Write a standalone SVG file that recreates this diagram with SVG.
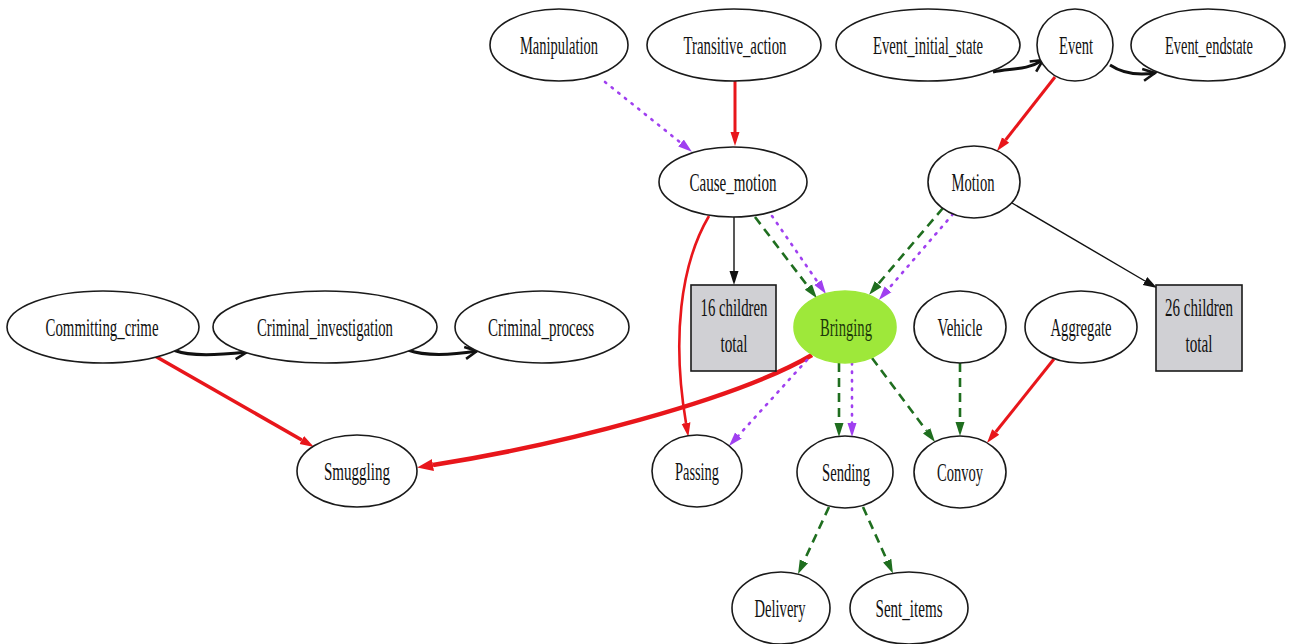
<svg xmlns="http://www.w3.org/2000/svg" width="1295" height="644" viewBox="0 0 1295 644">
<defs>
<style>
.n ellipse{fill:#fff;stroke:#1a1a1a;stroke-width:1.6}
.n rect{fill:#d0d0d4;stroke:#1a1a1a;stroke-width:1.6}
.n text{font-family:"Liberation Serif","Times New Roman",serif;font-size:25px;fill:#111;text-anchor:middle}
.red{stroke:#e8161b;fill:none;stroke-width:3}
.grn{stroke:#1f6e1f;fill:none;stroke-width:2.6;stroke-dasharray:9 6}
.pur{stroke:#a040f0;fill:none;stroke-width:2.6;stroke-dasharray:1.5 7;stroke-linecap:round}
.blk{stroke:#111;fill:none;stroke-width:1.4}
.bold{stroke:#111;fill:none;stroke-width:3}
</style>
<marker id="aR" viewBox="0 -6 15 12" markerWidth="15" markerHeight="12" refX="0" refY="0" orient="auto" markerUnits="userSpaceOnUse"><path d="M0,-4.5L14,0L0,4.5z" fill="#e8161b"/></marker>
<marker id="aRB" viewBox="0 -7 17 14" markerWidth="17" markerHeight="14" refX="0" refY="0" orient="auto" markerUnits="userSpaceOnUse"><path d="M0,-6L16,0L0,6z" fill="#e8161b"/></marker>
<marker id="aG" viewBox="0 -6 15 12" markerWidth="15" markerHeight="12" refX="0" refY="0" orient="auto" markerUnits="userSpaceOnUse"><path d="M0,-4.5L14,0L0,4.5z" fill="#1f6e1f"/></marker>
<marker id="aP" viewBox="0 -6 15 12" markerWidth="15" markerHeight="12" refX="0" refY="0" orient="auto" markerUnits="userSpaceOnUse"><path d="M0,-4.5L14,0L0,4.5z" fill="#a040f0"/></marker>
<marker id="aK" viewBox="0 -6 15 12" markerWidth="15" markerHeight="12" refX="0" refY="0" orient="auto" markerUnits="userSpaceOnUse"><path d="M0,-4.5L14,0L0,4.5z" fill="#111"/></marker>
<marker id="vK" viewBox="-2 -8 16 16" markerWidth="16" markerHeight="16" refX="12" refY="0" orient="auto" markerUnits="userSpaceOnUse"><path d="M0,-6L12,0L0,6" fill="none" stroke="#111" stroke-width="2.6"/></marker>
</defs>
<rect width="1295" height="644" fill="#fff"/>
<g id="edges">
<path class="pur" d="M605,82 L681,143" marker-end="url(#aP)"/>
<path class="red" d="M735,81 L735,132" marker-end="url(#aR)"/>
<path class="bold" d="M993,72 C1010,68 1026,71 1043,60" marker-end="url(#vK)"/>
<path class="bold" d="M1110,65 C1122,73 1136,76 1155,73" marker-end="url(#vK)"/>
<path class="red" d="M1055,77 L1005.6,140" marker-end="url(#aR)"/>
<path class="blk" d="M1012,203 L1145,281" marker-end="url(#aK)"/>
<path class="blk" d="M734,217 L734,271" marker-end="url(#aK)"/>
<path class="red" style="stroke-width:2.6" d="M709,216 C680,265 672,340 686,423" marker-end="url(#aR)"/>
<path class="grn" d="M755,217 L808.4,287" marker-end="url(#aG)"/>
<path class="pur" d="M772,216 L818,282.5" marker-end="url(#aP)"/>
<path class="grn" d="M943,208 L878.2,284" marker-end="url(#aG)"/>
<path class="pur" d="M953,214 L888,289.4" marker-end="url(#aP)"/>
<path class="red" style="stroke-width:4.5" d="M812,355 C735,400 560,445 433,465" marker-end="url(#aRB)"/>
<path class="red" style="stroke-width:3.6" d="M155,356 L301.8,440" marker-end="url(#aR)"/>
<path class="bold" d="M173,350 C192,357 218,355 247,352" marker-end="url(#vK)"/>
<path class="bold" d="M408,350 C427,357 452,355 477,351" marker-end="url(#vK)"/>
<path class="pur" d="M807,360 L738.4,435.6" marker-end="url(#aP)"/>
<path class="grn" d="M839,363 L839,423" marker-end="url(#aG)"/>
<path class="pur" d="M852,363 L852,423" marker-end="url(#aP)"/>
<path class="grn" d="M872,358 L926.6,430.8" marker-end="url(#aG)"/>
<path class="grn" d="M960,363 L960,422" marker-end="url(#aG)"/>
<path class="red" d="M1054,359 L995.7,432" marker-end="url(#aR)"/>
<path class="grn" d="M829,507 L803.9,561.3" marker-end="url(#aG)"/>
<path class="grn" d="M863,507 L887.2,560.7" marker-end="url(#aG)"/>
</g>
<g id="manipulation" class="n"><ellipse cx="559" cy="45" rx="69" ry="36"/><text x="559" y="53.5" textLength="78" lengthAdjust="spacingAndGlyphs">Manipulation</text></g>
<g id="transitive_action" class="n"><ellipse cx="734" cy="45" rx="87" ry="36"/><text x="735" y="53.5" textLength="103" lengthAdjust="spacingAndGlyphs">Transitive_action</text></g>
<g id="event_initial_state" class="n"><ellipse cx="928" cy="45" rx="92" ry="36"/><text x="928" y="53.5" textLength="110" lengthAdjust="spacingAndGlyphs">Event_initial_state</text></g>
<g id="event" class="n"><ellipse cx="1075" cy="45" rx="38" ry="36"/><text x="1076" y="53.5" textLength="34" lengthAdjust="spacingAndGlyphs">Event</text></g>
<g id="event_endstate" class="n"><ellipse cx="1208" cy="45" rx="77" ry="36"/><text x="1209" y="53.5" textLength="88" lengthAdjust="spacingAndGlyphs">Event_endstate</text></g>
<g id="cause_motion" class="n"><ellipse cx="733" cy="182" rx="74" ry="35"/><text x="733" y="190.5" textLength="87" lengthAdjust="spacingAndGlyphs">Cause_motion</text></g>
<g id="motion" class="n"><ellipse cx="974" cy="182" rx="46" ry="36"/><text x="973" y="190.5" textLength="43" lengthAdjust="spacingAndGlyphs">Motion</text></g>
<g id="committing_crime" class="n"><ellipse cx="103" cy="327" rx="96" ry="36"/><text x="102" y="335.5" textLength="113" lengthAdjust="spacingAndGlyphs">Committing_crime</text></g>
<g id="criminal_investigation" class="n"><ellipse cx="325" cy="327" rx="112" ry="36"/><text x="325" y="335.5" textLength="136" lengthAdjust="spacingAndGlyphs">Criminal_investigation</text></g>
<g id="criminal_process" class="n"><ellipse cx="542" cy="327" rx="87" ry="36"/><text x="541" y="335.5" textLength="106" lengthAdjust="spacingAndGlyphs">Criminal_process</text></g>
<g id="children16" class="n"><rect x="691" y="285" width="85" height="86"/><text x="734" y="316" textLength="67" lengthAdjust="spacingAndGlyphs">16 children</text><text x="734" y="352" textLength="27" lengthAdjust="spacingAndGlyphs">total</text></g>
<g id="bringing" class="n"><ellipse cx="845" cy="327" rx="51" ry="36" style="fill:#9ee83a;stroke:#9ee83a"/><text x="846" y="335.5" textLength="52" lengthAdjust="spacingAndGlyphs" style="fill:#1d3a0a">Bringing</text></g>
<g id="vehicle" class="n"><ellipse cx="960" cy="327" rx="46" ry="36"/><text x="960" y="335.5" textLength="45" lengthAdjust="spacingAndGlyphs">Vehicle</text></g>
<g id="aggregate" class="n"><ellipse cx="1081" cy="327" rx="56" ry="36"/><text x="1081" y="335.5" textLength="61" lengthAdjust="spacingAndGlyphs">Aggregate</text></g>
<g id="children26" class="n"><rect x="1156" y="285" width="86" height="86"/><text x="1199" y="316" textLength="68" lengthAdjust="spacingAndGlyphs">26 children</text><text x="1199" y="352" textLength="27" lengthAdjust="spacingAndGlyphs">total</text></g>
<g id="smuggling" class="n"><ellipse cx="357" cy="471" rx="60" ry="36"/><text x="357" y="479.5" textLength="66" lengthAdjust="spacingAndGlyphs">Smuggling</text></g>
<g id="passing" class="n"><ellipse cx="697" cy="471" rx="45" ry="36"/><text x="697" y="479.5" textLength="44" lengthAdjust="spacingAndGlyphs">Passing</text></g>
<g id="sending" class="n"><ellipse cx="845" cy="472" rx="48" ry="36"/><text x="846" y="480.5" textLength="48" lengthAdjust="spacingAndGlyphs">Sending</text></g>
<g id="convoy" class="n"><ellipse cx="960" cy="472" rx="46" ry="36"/><text x="960" y="480.5" textLength="46" lengthAdjust="spacingAndGlyphs">Convoy</text></g>
<g id="delivery" class="n"><ellipse cx="781" cy="608" rx="49" ry="36"/><text x="780" y="616.5" textLength="51" lengthAdjust="spacingAndGlyphs">Delivery</text></g>
<g id="sent_items" class="n"><ellipse cx="909" cy="608" rx="59" ry="36"/><text x="909" y="616.5" textLength="67" lengthAdjust="spacingAndGlyphs">Sent_items</text></g>
</svg>
